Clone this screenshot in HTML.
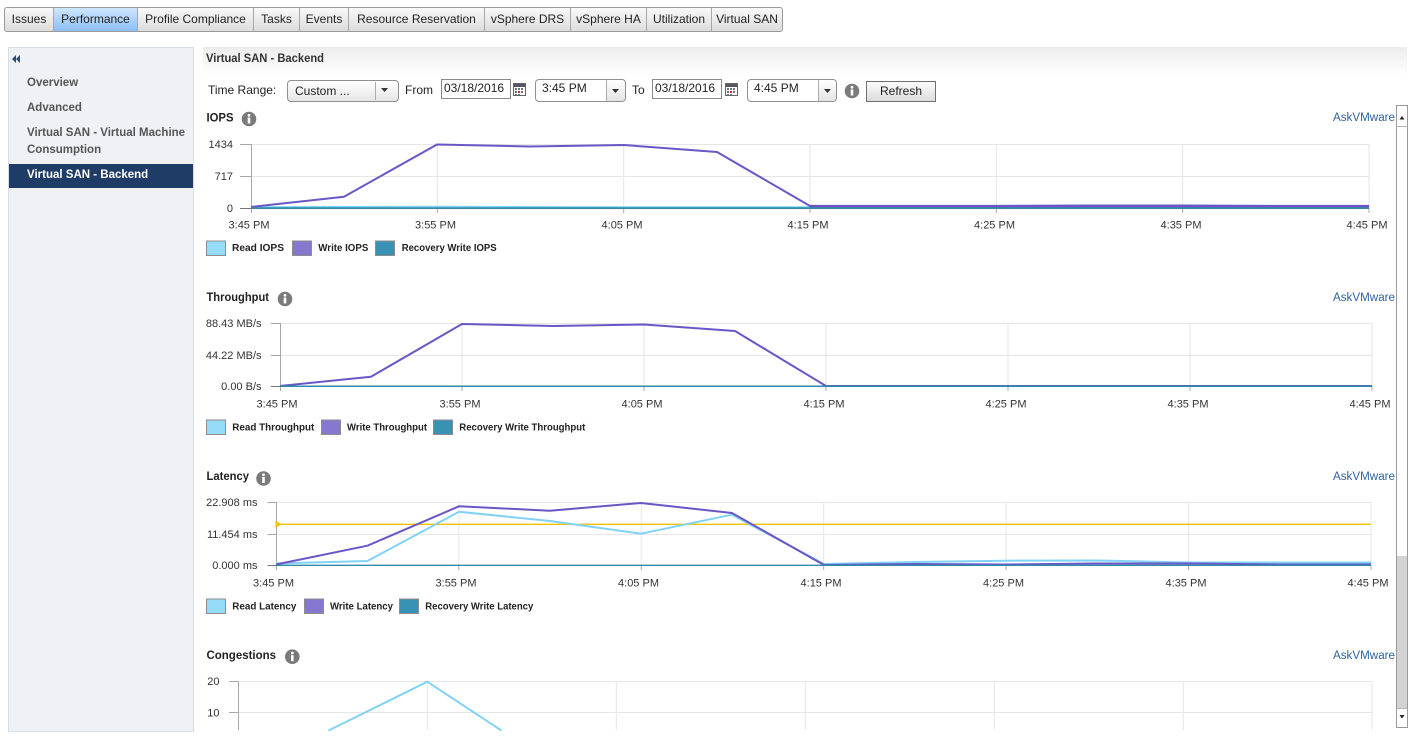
<!DOCTYPE html>
<html><head><meta charset="utf-8">
<style>
*{margin:0;padding:0;box-sizing:border-box}
html{width:1417px;height:737px;overflow:hidden}
body{width:1417px;height:737px;overflow:hidden;background:#fff;font-family:"Liberation Sans",Arial,sans-serif;position:relative;color:#222}
.tabs{position:absolute;left:4px;top:7px;height:25px;border:1px solid #9a9a9a;border-radius:3px;display:flex;overflow:hidden;background:linear-gradient(#f9f9f9,#dcdcdc)}
.tab{height:23px;line-height:22px;font-size:12px;color:#222;text-align:center;border-left:1px solid #a8a8a8;white-space:nowrap}
.tab:first-child{border-left:none}
.tab.on{background:linear-gradient(#cde6fe,#8dbff5)}
.side{position:absolute;left:8px;top:47px;width:186px;height:685px;background:#eef2f7;border:1px solid #d5dde8;overflow:hidden}
.si{position:absolute;left:18px;font-size:11.5px;font-weight:bold;color:#555;white-space:nowrap;line-height:14px}
.sel{position:absolute;left:0;top:116px;width:184px;height:24px;background:#1f3c66}
.hdr{position:absolute;left:203px;top:47px;width:1204px;height:28px;background:linear-gradient(#ececec,#ffffff)}
.lbl{position:absolute;font-size:12px;color:#222;white-space:nowrap;line-height:14px}
.sb{position:absolute;border:1px solid #8f8f8f;border-radius:4px;background:linear-gradient(#ffffff,#e6e6e6)}
.inp{position:absolute;border:1px solid #8a8a8a;background:#fff;font-size:12px;line-height:17px;padding-left:2px;color:#222}
.btn{position:absolute;left:866px;top:81px;width:70px;height:21px;border:1px solid #6f6f6f;background:linear-gradient(#fbfbfb,#dcdcdc);font-size:12px;text-align:center;line-height:19px;color:#222}
</style></head><body>

<div class="tabs">
<div class="tab" style="width:48px">Issues</div>
<div class="tab on" style="width:84px">Performance</div>
<div class="tab" style="width:116px">Profile Compliance</div>
<div class="tab" style="width:46px">Tasks</div>
<div class="tab" style="width:49px">Events</div>
<div class="tab" style="width:136px">Resource Reservation</div>
<div class="tab" style="width:86px">vSphere DRS</div>
<div class="tab" style="width:76px">vSphere HA</div>
<div class="tab" style="width:65px">Utilization</div>
<div class="tab" style="width:71px">Virtual SAN</div>
</div>

<div class="side">
<svg style="position:absolute;left:3px;top:7px" width="12" height="8"><polygon points="0,4 4,0 4,8" fill="#2c4a78"/><polygon points="4,4 8,0 8,8" fill="#2c4a78"/></svg>
<div class="si" style="top:28px">Overview</div>
<div class="si" style="top:53px">Advanced</div>
<div class="si" style="top:78px">Virtual SAN - Virtual Machine</div>
<div class="si" style="top:95px">Consumption</div>
<div class="sel"></div>
<div class="si" style="top:120px;color:#fff">Virtual SAN - Backend</div>
</div>

<div class="hdr"></div>

<div class="lbl" style="left:208px;top:83px">Time Range:</div>
<div class="sb" style="left:287px;top:80px;width:112px;height:22px"></div>
<div class="lbl" style="left:295px;top:84px">Custom ...</div>
<div style="position:absolute;left:375px;top:82px;width:1px;height:18px;background:#aaa"></div>
<svg style="position:absolute;left:381px;top:88px" width="8" height="5"><polygon points="0,0 7,0 3.5,4" fill="#333"/></svg>

<div class="lbl" style="left:405px;top:83px">From</div>
<div class="inp" style="left:441px;top:79px;width:70px;height:20px">03/18/2016</div>
<svg style="position:absolute;left:513px;top:83px" width="13" height="13"><rect x="0.5" y="0.5" width="12" height="12" fill="#fff" stroke="#666"/><rect x="1" y="1" width="11" height="3" fill="#556"/><g fill="#6d7380"><rect x="2" y="5" width="2" height="2"/><rect x="5" y="5" width="2" height="2"/><rect x="8" y="5" width="2" height="2"/><rect x="2" y="8" width="2" height="2"/><rect x="8" y="8" width="2" height="2"/><rect x="2" y="11" width="2" height="1"/><rect x="5" y="11" width="2" height="1"/></g><rect x="5" y="8" width="2" height="2" fill="#d22"/></svg>
<div class="sb" style="left:535px;top:79px;width:91px;height:23px;background:#fff"></div>
<div class="lbl" style="left:542px;top:81px">3:45 PM</div>
<div style="position:absolute;left:606px;top:80px;width:1px;height:21px;background:#aaa"></div>
<div style="position:absolute;left:607px;top:80px;width:18px;height:21px;background:linear-gradient(#fff,#e4e4e4);border-radius:0 4px 4px 0"></div>
<svg style="position:absolute;left:612px;top:89px" width="8" height="5"><polygon points="0,0 7,0 3.5,4" fill="#333"/></svg>

<div class="lbl" style="left:632px;top:83px">To</div>
<div class="inp" style="left:652px;top:79px;width:70px;height:20px">03/18/2016</div>
<svg style="position:absolute;left:725px;top:83px" width="13" height="13"><rect x="0.5" y="0.5" width="12" height="12" fill="#fff" stroke="#666"/><rect x="1" y="1" width="11" height="3" fill="#556"/><g fill="#6d7380"><rect x="2" y="5" width="2" height="2"/><rect x="5" y="5" width="2" height="2"/><rect x="8" y="5" width="2" height="2"/><rect x="2" y="8" width="2" height="2"/><rect x="8" y="8" width="2" height="2"/><rect x="2" y="11" width="2" height="1"/><rect x="5" y="11" width="2" height="1"/></g><rect x="5" y="8" width="2" height="2" fill="#d22"/></svg>
<div class="sb" style="left:747px;top:79px;width:90px;height:23px;background:#fff"></div>
<div class="lbl" style="left:754px;top:81px">4:45 PM</div>
<div style="position:absolute;left:818px;top:80px;width:1px;height:21px;background:#aaa"></div>
<div style="position:absolute;left:819px;top:80px;width:17px;height:21px;background:linear-gradient(#fff,#e4e4e4);border-radius:0 4px 4px 0"></div>
<svg style="position:absolute;left:824px;top:89px" width="8" height="5"><polygon points="0,0 7,0 3.5,4" fill="#333"/></svg>

<svg style="position:absolute;left:844px;top:83px" width="16" height="16"><circle cx="8" cy="8" r="7.3" fill="#7a7a7a"/><circle cx="8" cy="4.3" r="1.4" fill="#fff"/><rect x="6.7" y="6.5" width="2.6" height="6" fill="#fff"/></svg>
<div class="btn">Refresh</div>

<svg style="position:absolute;left:0;top:0;display:block" width="1417" height="737" font-family="Liberation Sans, Arial, sans-serif">
<defs>
<g id="info"><circle cx="0" cy="0" r="7.3" fill="#7a7a7a"/><circle cx="0" cy="-3.7" r="1.4" fill="#fff"/><rect x="-1.3" y="-1.5" width="2.6" height="6" fill="#fff"/></g>
</defs>

<text x="206" y="62" font-size="11.5" font-weight="bold" fill="#333" textLength="118" lengthAdjust="spacingAndGlyphs">Virtual SAN - Backend</text>

<g font-size="12" font-weight="bold" fill="#222">
<text x="206.5" y="121.5" textLength="27" lengthAdjust="spacingAndGlyphs">IOPS</text>
<text x="206.5" y="301" textLength="62.5" lengthAdjust="spacingAndGlyphs">Throughput</text>
<text x="206.5" y="480" textLength="42.5" lengthAdjust="spacingAndGlyphs">Latency</text>
<text x="206.5" y="659" textLength="69.5" lengthAdjust="spacingAndGlyphs">Congestions</text>
</g>
<use href="#info" x="249" y="119"/>
<use href="#info" x="285" y="299"/>
<use href="#info" x="263.5" y="478.5"/>
<use href="#info" x="292.3" y="656.7"/>
<g font-size="11.5" fill="#2f62a0">
<text x="1333" y="121" textLength="62" lengthAdjust="spacingAndGlyphs">AskVMware</text>
<text x="1333" y="301" textLength="62" lengthAdjust="spacingAndGlyphs">AskVMware</text>
<text x="1333" y="480" textLength="62" lengthAdjust="spacingAndGlyphs">AskVMware</text>
<text x="1333" y="659" textLength="62" lengthAdjust="spacingAndGlyphs">AskVMware</text>
</g>

<!-- ===== IOPS ===== -->
<g stroke="#e6e6e6" stroke-width="1" fill="none">
<path d="M251 144.5H1369M251 176.5H1369"/>
<path d="M437.3 144V208M623.7 144V208M810 144V208M996.3 144V208M1182.7 144V208M1369 144V208"/>
</g>
<g stroke="#a8a8a8" stroke-width="1" fill="none">
<path d="M251.5 144V213M240 144.5H251M240 176.5H251"/>
<path d="M437.3 208V213M623.7 208V213M810 208V213M996.3 208V213M1182.7 208V213M1369 208V213"/>
</g>
<path d="M240 208.5H1369" stroke="#777" stroke-width="1"/>
<g font-size="11" fill="#333" text-anchor="end">
<text x="233" y="148">1434</text><text x="233" y="180">717</text><text x="233" y="212">0</text>
</g>
<g font-size="11" fill="#333" text-anchor="middle">
<text x="249" y="228.5">3:45 PM</text><text x="435.5" y="228.5">3:55 PM</text><text x="622" y="228.5">4:05 PM</text><text x="808" y="228.5">4:15 PM</text><text x="994.5" y="228.5">4:25 PM</text><text x="1181" y="228.5">4:35 PM</text><text x="1367" y="228.5">4:45 PM</text>
</g>
<polyline fill="none" stroke="#7fd3f7" stroke-width="1.5" points="251,207 437,206.5 623,207 810,207 1369,207"/>
<polyline fill="none" stroke="#6a56c6" stroke-width="2" stroke-linejoin="round" points="251,207 344,196.7 437,144.5 530,146.5 624,145 717,152 810,206 903,206 996,206 1090,205.5 1183,205.5 1276,206 1369,206"/>
<path d="M810 206.2H1369" stroke="#6a56c6" stroke-width="2.6"/>
<path d="M251 208H1369" stroke="#2f8aab" stroke-width="1.5"/>
<g font-size="10.5" font-weight="bold" fill="#222">
<rect x="206.5" y="241" width="19" height="14.5" fill="#96dcf8" stroke="#8c8c8c"/><text x="232" y="251" textLength="52" lengthAdjust="spacingAndGlyphs">Read IOPS</text>
<rect x="292.5" y="241" width="19" height="14.5" fill="#8677cf" stroke="#8c8c8c"/><text x="318.3" y="251" textLength="50" lengthAdjust="spacingAndGlyphs">Write IOPS</text>
<rect x="375.5" y="241" width="19" height="14.5" fill="#3892b4" stroke="#8c8c8c"/><text x="401.7" y="251" textLength="95" lengthAdjust="spacingAndGlyphs">Recovery Write IOPS</text>
</g>

<!-- ===== Throughput ===== -->
<g stroke="#e6e6e6" stroke-width="1" fill="none">
<path d="M280 323.5H1372M280 355.5H1372"/>
<path d="M462 323V386M644 323V386M826 323V386M1008 323V386M1190 323V386M1372 323V386"/>
</g>
<g stroke="#a8a8a8" stroke-width="1" fill="none">
<path d="M280.5 323V391M271 323.5H280M271 355.5H280"/>
<path d="M462 386V391M644 386V391M826 386V391M1008 386V391M1190 386V391M1372 386V391"/>
</g>
<path d="M271 386.5H1372" stroke="#777" stroke-width="1"/>
<g font-size="11" fill="#333" text-anchor="end">
<text x="261.5" y="327">88.43 MB/s</text><text x="261.5" y="359">44.22 MB/s</text><text x="261.5" y="390">0.00 B/s</text>
</g>
<g font-size="11" fill="#333" text-anchor="middle">
<text x="277" y="407.5">3:45 PM</text><text x="460" y="407.5">3:55 PM</text><text x="642" y="407.5">4:05 PM</text><text x="824" y="407.5">4:15 PM</text><text x="1006" y="407.5">4:25 PM</text><text x="1188" y="407.5">4:35 PM</text><text x="1370" y="407.5">4:45 PM</text>
</g>
<polyline fill="none" stroke="#6a56c6" stroke-width="2" stroke-linejoin="round" points="280,386 371,376.7 462,324 553,326 644,324.5 735,331 826,386 1372,386"/>
<path d="M280 386.3H1372" stroke="#2f8aab" stroke-width="1.5"/>
<g font-size="10.5" font-weight="bold" fill="#222">
<rect x="206.5" y="420" width="19" height="14.5" fill="#96dcf8" stroke="#8c8c8c"/><text x="232.3" y="430.5" textLength="82" lengthAdjust="spacingAndGlyphs">Read Throughput</text>
<rect x="321.5" y="420" width="19" height="14.5" fill="#8677cf" stroke="#8c8c8c"/><text x="347" y="430.5" textLength="80" lengthAdjust="spacingAndGlyphs">Write Throughput</text>
<rect x="433.5" y="420" width="19" height="14.5" fill="#3892b4" stroke="#8c8c8c"/><text x="459.3" y="430.5" textLength="126" lengthAdjust="spacingAndGlyphs">Recovery Write Throughput</text>
</g>

<!-- ===== Latency ===== -->
<g stroke="#e6e6e6" stroke-width="1" fill="none">
<path d="M276 502.5H1371M276 534.5H1371"/>
<path d="M458.8 502V565M641.2 502V565M823.7 502V565M1006.1 502V565M1188.6 502V565M1371 502V565"/>
</g>
<g stroke="#a8a8a8" stroke-width="1" fill="none">
<path d="M276.5 502V570M267.5 502.5H276M267.5 534.5H276"/>
<path d="M458.8 565V570M641.2 565V570M823.7 565V570M1006.1 565V570M1188.6 565V570M1371 565V570"/>
</g>
<path d="M267.5 565.5H1371" stroke="#777" stroke-width="1"/>
<g font-size="11" fill="#333" text-anchor="end">
<text x="257.5" y="506">22.908 ms</text><text x="257.5" y="538">11.454 ms</text><text x="257.5" y="569">0.000 ms</text>
</g>
<g font-size="11" fill="#333" text-anchor="middle">
<text x="273.5" y="586.5">3:45 PM</text><text x="456" y="586.5">3:55 PM</text><text x="638.5" y="586.5">4:05 PM</text><text x="821" y="586.5">4:15 PM</text><text x="1003.5" y="586.5">4:25 PM</text><text x="1186" y="586.5">4:35 PM</text><text x="1368" y="586.5">4:45 PM</text>
</g>
<path d="M276 524.3H1371" stroke="#f2c200" stroke-width="1.3"/>
<polygon points="275.5,520.5 281.5,524.3 275.5,528.2" fill="#f2c200"/>
<polyline fill="none" stroke="#80d2f7" stroke-width="2" stroke-linejoin="round" points="276,563.5 367.5,561 459,511.7 550,521 641,533.7 732,514.7 824,564 915,562 1006,560.7 1097,560.5 1189,562.5 1280,562.5 1371,562.5"/>
<polyline fill="none" stroke="#6a56c6" stroke-width="2" stroke-linejoin="round" points="276,564.5 367.5,545.7 459,506.3 550,510.7 641,503 732,513 824,565 915,564 1006,564.5 1097,563.5 1189,563.5 1280,564.5 1371,564.5"/>
<path d="M276 565.3H1371" stroke="#2f8aab" stroke-width="1.3"/>
<g font-size="10.5" font-weight="bold" fill="#222">
<rect x="206.5" y="599" width="19" height="14.5" fill="#96dcf8" stroke="#8c8c8c"/><text x="232.3" y="609.5" textLength="64" lengthAdjust="spacingAndGlyphs">Read Latency</text>
<rect x="304.5" y="599" width="19" height="14.5" fill="#8677cf" stroke="#8c8c8c"/><text x="330" y="609.5" textLength="63" lengthAdjust="spacingAndGlyphs">Write Latency</text>
<rect x="399.5" y="599" width="19" height="14.5" fill="#3892b4" stroke="#8c8c8c"/><text x="425.3" y="609.5" textLength="108" lengthAdjust="spacingAndGlyphs">Recovery Write Latency</text>
</g>

<!-- ===== Congestions ===== -->
<g stroke="#e6e6e6" stroke-width="1" fill="none">
<path d="M238 681.5H1372M238 712.5H1372"/>
<path d="M427.3 681V730M616.3 681V730M805.3 681V730M994.3 681V730M1183.3 681V730M1372 681V730"/>
</g>
<g stroke="#a8a8a8" stroke-width="1" fill="none">
<path d="M238.5 681V730M229 681.5H238M229 712.5H238"/>
</g>
<g font-size="11" fill="#333" text-anchor="end">
<text x="219.5" y="685">20</text><text x="219.5" y="716.5">10</text>
</g>
<polyline fill="none" stroke="#80d2f7" stroke-width="2" stroke-linejoin="round" points="328.5,730.6 332.7,728.5 427.3,681.7 501.5,730.6"/>

<!-- Scrollbar -->
<rect x="1396.5" y="105.5" width="11" height="622" fill="#fff" stroke="#9a9a9a"/>
<path d="M1396.5 126.5H1407.5" stroke="#b5b5b5"/>
<polygon points="1399.5,119.5 1404.5,119.5 1402,116" fill="#222"/>
<rect x="1397" y="556" width="10" height="152" fill="#d3d3d3"/>
<path d="M1396.5 708.5H1407.5" stroke="#b5b5b5"/>
<polygon points="1399.5,715 1404.5,715 1402,718.5" fill="#222"/>
</svg>
</body></html>
